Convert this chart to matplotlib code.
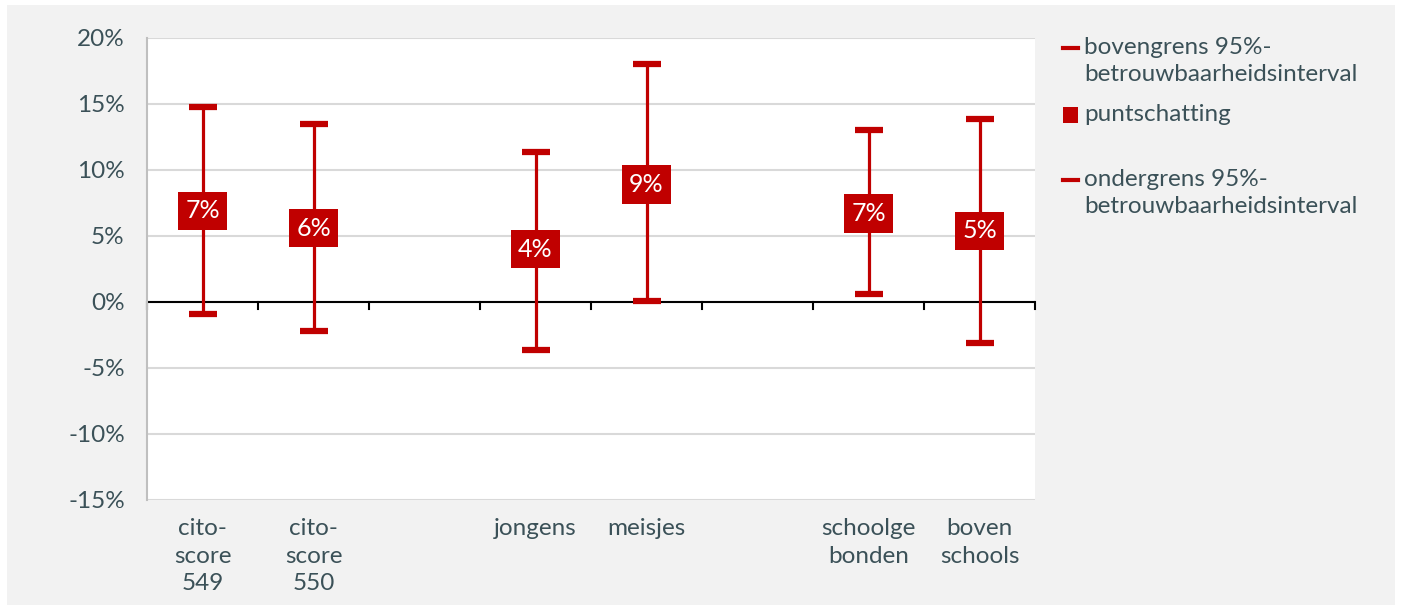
import matplotlib.pyplot as plt
from matplotlib.patches import Rectangle
from matplotlib.lines import Line2D

# ============================================
# Data (percentages)
# ============================================
categories = ['cito-\nscore\n549', 'cito-\nscore\n550', '', 'jongens', 'meisjes', '',
              'schoolge\nbonden', 'boven\nschools']
upper = [14.8, 13.5, None, 11.4, 18.0, None, 13.0, 13.9]
point = [6.9, 5.6, None, 4.0, 8.9, None, 6.7, 5.4]
lower = [-0.9, -2.2, None, -3.6, 0.1, None, 0.6, -3.1]
point_labels = ['7%', '6%', '', '4%', '9%', '', '7%', '5%']
y_ticks = [-15, -10, -5, 0, 5, 10, 15, 20]

RED = '#c00000'
TEXT = '#3b5158'
FS = 17.5

plt.rcParams['font.family'] = ['Lato', 'DejaVu Sans']

fig = plt.figure(figsize=(14.02, 6.05), dpi=100, facecolor='white')
fig.add_artist(Rectangle((7 / 1402, 0), 1388 / 1402, 600 / 605, transform=fig.transFigure,
                         facecolor='#f2f2f2', edgecolor='none', zorder=-10))
ax = fig.add_axes([147 / 1402, 1 - 500 / 605, 888 / 1402, 462 / 605])
ax.set_facecolor('white')

xs = list(range(len(categories)))
for x, up, pt, lo, lab in zip(xs, upper, point, lower, point_labels):
    if pt is None:
        continue
    ax.errorbar([x], [pt], yerr=[[pt - lo], [up - pt]], fmt='none', ecolor=RED,
                elinewidth=2.3, capsize=10, capthick=4.5, zorder=3)
    ax.bar([x], [2.9], bottom=pt - 1.45, width=0.45, color=RED, zorder=4)
    ax.text(x, pt, lab, color='white', ha='center', va='center', fontsize=18, zorder=5)

ax.set_xlim(-0.5, len(categories) - 0.5)
ax.set_ylim(-15, 20)
ax.set_yticks(y_ticks)
ax.set_yticklabels([f'{v}%' for v in y_ticks])
ax.tick_params(axis='y', length=0, labelsize=FS, labelcolor=TEXT, pad=16)
ax.grid(axis='y', color='#d9d9d9', linewidth=1.5, zorder=0)
ax.set_axisbelow(True)

# x axis drawn at zero with ticks between categories
ax.axhline(0, color='black', linewidth=1.5, zorder=2)
ax.set_xticks([])
for b in range(len(categories) + 1):
    ax.plot([b - 0.5, b - 0.5], [0, -0.55], color='black', linewidth=1.5, zorder=2,
            clip_on=False)
for x, c in zip(xs, categories):
    ax.text(x, -16.35, c, ha='center', va='top', fontsize=FS, color=TEXT,
            linespacing=1.4)

for side in ['top', 'right', 'bottom']:
    ax.spines[side].set_visible(False)
ax.spines['left'].set_color('#bfbfbf')
ax.spines['left'].set_linewidth(1.5)

# Legend drawn by hand
def fx(px):
    return px / 1402

def fy(py):
    return 1 - py / 605

legend_items = [
    ('dash', 48, 'bovengrens 95%-\nbetrouwbaarheidsinterval'),
    ('square', 115, 'puntschatting'),
    ('dash', 180, 'ondergrens 95%-\nbetrouwbaarheidsinterval'),
]
for kind, py, txt in legend_items:
    if kind == 'dash':
        fig.add_artist(Line2D([fx(1063), fx(1078)], [fy(py), fy(py)], color=RED,
                              linewidth=3, transform=fig.transFigure))
    else:
        fig.add_artist(Rectangle((fx(1063), fy(py + 7.5)), fx(15), 15 / 605, facecolor=RED,
                                 edgecolor='none', transform=fig.transFigure))
    fig.text(fx(1084), fy(py - 11), txt, ha='left', va='top', fontsize=FS, color=TEXT,
             linespacing=1.36)

fig.savefig('out.png', dpi=100, facecolor=fig.get_facecolor())
